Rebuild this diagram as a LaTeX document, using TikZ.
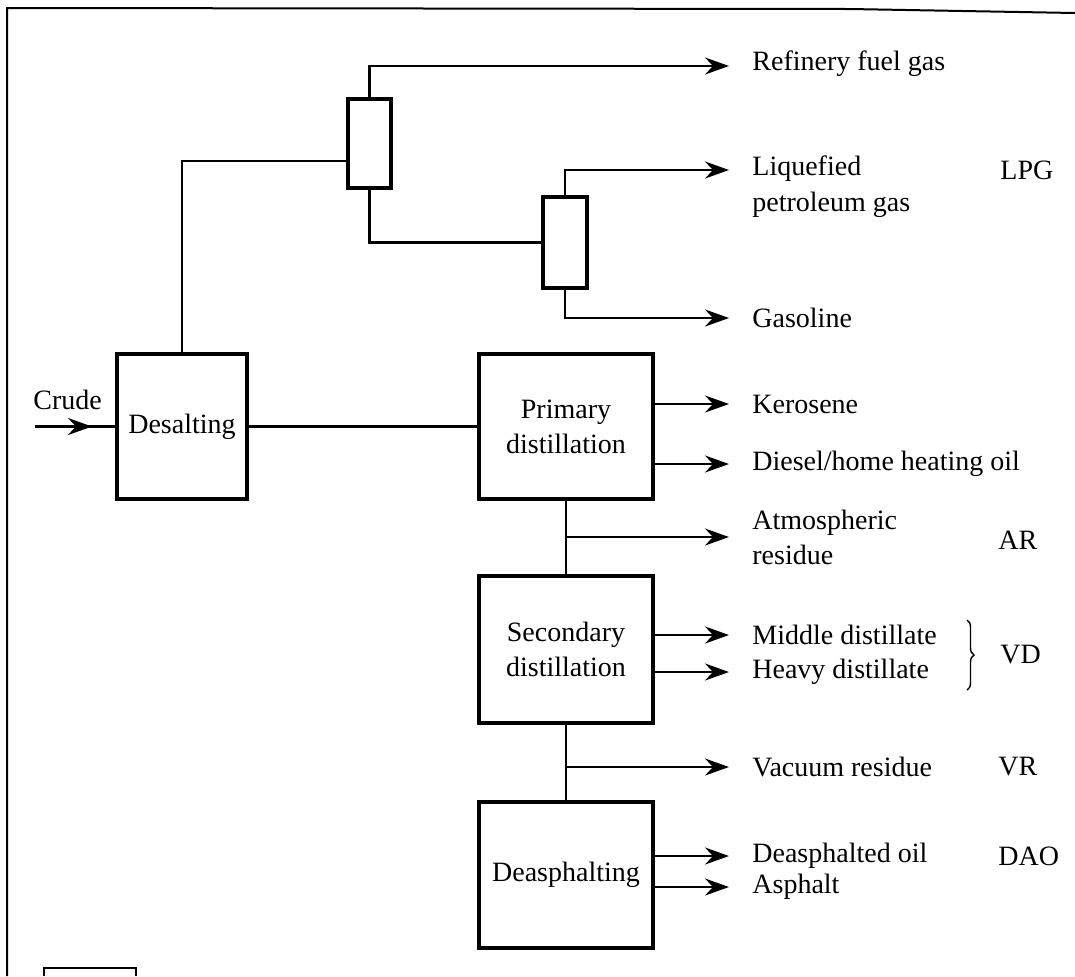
\documentclass[tikz,border=0pt]{standalone}
\usepackage{fontspec}
\setmainfont{Liberation Serif}
\usetikzlibrary{arrows.meta,calc,decorations.pathreplacing}
\begin{document}
\begin{tikzpicture}[x=0.5pt,y=-0.5pt,
  every node/.style={font=\fontsize{14}{17.5}\selectfont},
  unitbox/.style 2 args={draw,line width=1.6pt,minimum width=#1,minimum height=#2,inner sep=0pt,align=center},
  flow/.style={line width=1.4pt},
  tip/.style={-{Stealth[length=12pt,width=8.5pt,inset=4pt]}},
  arr/.style={flow,tip,shorten >=#1},
  arr/.default=11.5pt,
  prod/.style={anchor=west,inner sep=0pt},
  frame/.style={line width=1pt}]
\useasboundingbox (0,0) rectangle (1075,976);

% page frame
\draw[frame] (7,976) -- (7,8) -- (850,9) -- (1075,13);
\draw[frame] (44,976) -- (44,968) -- (136,968) -- (136,976);

% process units
\node[unitbox={65pt}{72.5pt}] (desalt) at (182,426.5) {Desalting};
\node[unitbox={21.5pt}{44.5pt}] (col1) at (369.5,143.5) {};
\node[unitbox={22pt}{45.5pt}] (col2) at (565,242.5) {};
\node[unitbox={87pt}{72.5pt}] (prim) at (566,426.5) {Primary\\distillation};
\node[unitbox={87pt}{73.5pt}] (sec) at (566,649.5) {Secondary\\distillation};
\node[unitbox={87pt}{73pt}] (deas) at (566,875) {Deasphalting};

% product labels
\node[prod] (crude) at (33,400) {Crude};
\node[prod] (fuel) at (752,64) {Refinery fuel gas};
\node[prod] (lpg1) at (752,169) {Liquefied};
\node[prod] (lpg2) at (752,205) {petroleum gas};
\node[prod] (lpgab) at (1000,170) {LPG};
\node[prod] (gaso) at (752,318) {Gasoline};
\node[prod] (kero) at (752,404) {Kerosene};
\node[prod] (dies) at (752,464) {Diesel/home heating oil};
\node[prod,align=left] (atm) at (752,537) {Atmospheric\\residue};
\node[prod] (arab) at (998,540) {AR};
\node[prod] (mid) at (752,635) {Middle distillate};
\node[prod] (heavy) at (752,672) {Heavy distillate};
\node[prod] (vdab) at (1000,655) {VD};
\node[prod] (vac) at (752,767) {Vacuum residue};
\node[prod] (vrab) at (998,767) {VR};
\node[prod] (dao) at (752,856) {Deasphalted oil};
\node[prod] (asph) at (752,887) {Asphalt};
\node[prod] (daoab) at (998,856) {DAO};

% crude feed
\coordinate (crudein) at (35,426.5);
\draw[flow] (crudein) -- (desalt.west);
\draw[flow,tip] (crudein) -- ++(57,0);

% gas plant
\draw[flow] (desalt.north) |- ($(col1.west)+(0,17.5)$);
\draw[arr] (col1.north) |- (fuel.west |- 0,66);
\draw[flow] (col1.south) |- (col2.west);
\draw[arr] (col2.north) |- (lpg1.west |- 0,170);
\draw[arr] (col2.south) |- (gaso);

% distillation train
\draw[flow] (desalt.east) -- (prim.west);
\draw[arr] (prim.east |- kero) -- (kero);
\draw[arr] (prim.east |- dies) -- (dies);
\draw[flow] (prim.south) -- (sec.north);
\draw[arr] (prim.south |- atm) -- (atm);
\draw[arr] (sec.east |- mid) -- (mid);
\draw[arr] (sec.east |- heavy) -- (heavy);
\draw[flow] (sec.south) -- (deas.north);
\draw[arr] (sec.south |- vac) -- (vac);
\draw[arr] (deas.east |- dao) -- (dao);
\draw[arr] (deas.east |- asph) -- (asph);

% vacuum distillate bracket
\draw[line width=0.7pt,decorate,decoration={brace,amplitude=3.5pt}]
  (967,620) -- (967,690);
\end{tikzpicture}
\end{document}
